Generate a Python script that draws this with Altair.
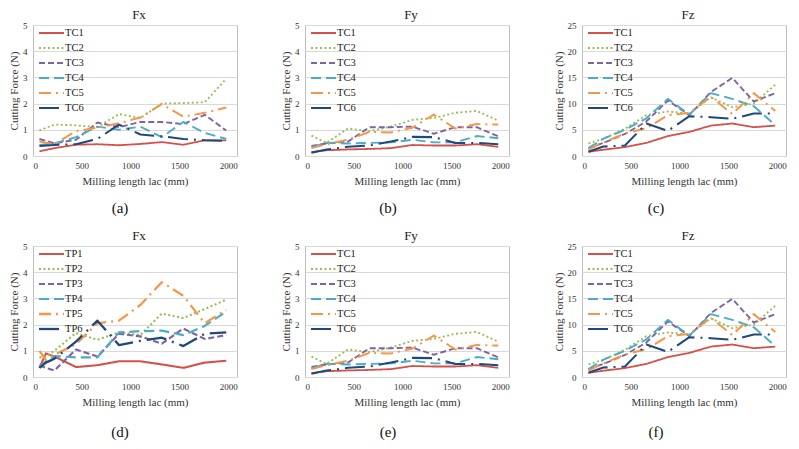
import altair as alt
import pandas as pd

SERIF = "Liberation Serif"

# ---------------- data ----------------
x_tc = [66, 220, 440, 660, 880, 1100, 1320, 1540, 1760, 1980]
x_tp = [66, 132, 220, 440, 660, 880, 1100, 1320, 1540, 1760, 1980]

tc_names = ["TC1", "TC2", "TC3", "TC4", "TC5", "TC6"]
tp_names = ["TP1", "TP2", "TP3", "TP4", "TP5", "TP6"]

# (a) Fx, TC
fx_tc1 = [0.18, 0.3, 0.43, 0.45, 0.41, 0.46, 0.53, 0.43, 0.6, 0.6]
fx_tc2 = [0.97, 1.2, 1.17, 1.1, 1.6, 1.45, 2.0, 2.02, 2.05, 2.95]
fx_tc3 = [0.65, 0.48, 0.62, 1.28, 1.1, 1.3, 1.3, 1.22, 1.57, 0.97]
fx_tc4 = [0.42, 0.48, 0.72, 1.12, 1.0, 1.12, 0.72, 1.3, 0.88, 0.65]
fx_tc5 = [0.55, 0.45, 0.95, 1.08, 1.25, 1.47, 1.98, 1.5, 1.65, 1.85]
fx_tc6 = [0.38, 0.42, 0.45, 0.65, 1.2, 0.82, 0.75, 0.65, 0.6, 0.58]

# (b)/(e) Fy, TC
fy_tc1 = [0.15, 0.22, 0.25, 0.27, 0.3, 0.42, 0.4, 0.4, 0.45, 0.35]
fy_tc2 = [0.78, 0.5, 1.05, 0.95, 1.12, 1.38, 1.45, 1.65, 1.72, 1.35]
fy_tc3 = [0.38, 0.48, 0.55, 1.1, 1.1, 1.12, 0.85, 1.1, 1.1, 0.75]
fy_tc4 = [0.33, 0.5, 0.48, 0.5, 0.52, 0.62, 0.52, 0.52, 0.76, 0.68]
fy_tc5 = [0.3, 0.45, 0.62, 0.92, 0.9, 1.08, 1.58, 1.05, 1.22, 1.2]
fy_tc6 = [0.12, 0.25, 0.35, 0.4, 0.55, 0.73, 0.72, 0.5, 0.5, 0.45]

# (c)/(f) Fz, TC
fz_tc1 = [0.8, 1.2, 1.7, 2.5, 3.8, 4.6, 5.8, 6.2, 5.5, 5.8]
fz_tc2 = [2.4, 3.3, 5.2, 7.8, 8.5, 8.1, 11.2, 9.3, 10.0, 13.6]
fz_tc3 = [1.5, 2.5, 4.2, 6.6, 10.6, 7.8, 12.2, 14.9, 10.4, 12.0]
fz_tc4 = [1.5, 3.3, 5.0, 7.2, 10.9, 7.9, 12.0, 10.9, 9.5, 5.9]
fz_tc5 = [1.2, 2.6, 4.3, 5.3, 7.8, 8.2, 11.3, 8.0, 12.0, 8.6]
fz_tc6 = [0.8, 1.8, 2.0, 6.2, 4.8, 7.6, 7.4, 7.1, 8.1, 8.1]

# (d) Fx, TP
fx_tp1 = [0.35, 0.9, 0.78, 0.38, 0.45, 0.6, 0.6, 0.48, 0.35, 0.55, 0.62]
fx_tp2 = [0.75, 0.78, 1.0, 1.68, 1.42, 1.7, 1.6, 2.42, 2.25, 2.6, 2.95]
fx_tp3 = [0.45, 0.35, 0.25, 1.05, 0.78, 1.65, 1.55, 1.27, 1.85, 1.45, 1.6]
fx_tp4 = [0.38, 0.6, 0.8, 0.75, 0.75, 1.7, 1.75, 1.77, 1.6, 1.95, 2.5]
fx_tp5 = [1.0, 0.65, 0.85, 1.25, 2.05, 2.15, 2.75, 3.62, 3.1, 2.05, 2.57]
fx_tp6 = [0.35, 0.55, 0.7, 1.35, 2.15, 1.22, 1.38, 1.5, 1.18, 1.65, 1.7]

# ---------------- styling ----------------
COLORS = ["#D4504A", "#9BBB59", "#8064A2", "#4BACC6", "#F79646", "#1F497D"]
DASHES = [[1, 0], [2, 2.5], [6, 3], [10, 5], [12, 5, 2, 5], [20, 6, 2, 6]]
WIDTHS = [1.8, 2.3, 2.6, 2.6, 2.6, 2.9]

W, H = 204, 131


def panel(names, xs, series, title, ymax, yticks, label, label_x, label_dy):
    rows = []
    for name, vals in zip(names, series):
        for x, v in zip(xs, vals):
            rows.append({"series": name, "x": x, "y": v})
    df = pd.DataFrame(rows)

    color = alt.Color("series:N", scale=alt.Scale(domain=names, range=COLORS), legend=None)
    dash = alt.StrokeDash("series:N", scale=alt.Scale(domain=names, range=DASHES), legend=None)
    sw = alt.StrokeWidth("series:N", scale=alt.Scale(domain=names, range=WIDTHS), legend=None)

    lines = alt.Chart(df).mark_line(strokeCap="butt", strokeJoin="round").encode(
        x=alt.X("x:Q", scale=alt.Scale(domain=[0, 2090], nice=False, zero=False),
                axis=alt.Axis(values=[0, 500, 1000, 1500, 2000], format="d",
                              title="Milling  length lac (mm)",
                              grid=False, labelPadding=5, titlePadding=5)),
        y=alt.Y("y:Q", scale=alt.Scale(domain=[0, ymax], nice=False),
                axis=alt.Axis(values=yticks, format="d", title="Cutting Force (N)", grid=True,
                              labelPadding=6, titlePadding=3)),
        color=color, strokeDash=dash, strokeWidth=sw,
        order="x:Q",
    )

    leg = pd.DataFrame({"series": names})
    leg_y = alt.Y("series:N", scale=alt.Scale(type="point", domain=names, range=[8, 83], padding=0), axis=None)
    leg_rules = alt.Chart(leg).mark_rule(strokeCap="butt").encode(
        x=alt.value(6), x2=alt.value(31), y=leg_y,
        color=color, strokeDash=dash, strokeWidth=sw,
    )
    leg_text = alt.Chart(leg).mark_text(align="left", baseline="middle", font=SERIF,
                                        fontSize=10.5, color="#222").encode(
        x=alt.value(32), y=leg_y, text="series:N"
    )

    lab = pd.DataFrame({"label": [label]})
    lab_text = alt.Chart(lab).mark_text(align="center", baseline="middle", font=SERIF,
                                        fontSize=15, color="#111").encode(
        x=alt.value(label_x), y=alt.value(H + label_dy), text="label:N"
    )

    return alt.layer(lines, leg_rules, leg_text, lab_text).resolve_scale(y="independent").properties(
        width=W, height=H,
        title=alt.TitleParams(text=title, font=SERIF, fontSize=13, fontWeight="normal",
                              color="#222", dx=4, offset=-1),
    )


pa = panel(tc_names, x_tc, [fx_tc1, fx_tc2, fx_tc3, fx_tc4, fx_tc5, fx_tc6], "Fx", 5, [0, 1, 2, 3, 4, 5], "(a)", 87, 52)
pb = panel(tc_names, x_tc, [fy_tc1, fy_tc2, fy_tc3, fy_tc4, fy_tc5, fy_tc6], "Fy", 5, [0, 1, 2, 3, 4, 5], "(b)", 83, 52)
pc = panel(tc_names, x_tc, [fz_tc1, fz_tc2, fz_tc3, fz_tc4, fz_tc5, fz_tc6], "Fz", 25, [0, 5, 10, 15, 20, 25], "(c)", 74, 52)
pd_ = panel(tp_names, x_tp, [fx_tp1, fx_tp2, fx_tp3, fx_tp4, fx_tp5, fx_tp6], "Fx", 5, [0, 1, 2, 3, 4, 5], "(d)", 87, 55)
pe = panel(tc_names, x_tc, [fy_tc1, fy_tc2, fy_tc3, fy_tc4, fy_tc5, fy_tc6], "Fy", 5, [0, 1, 2, 3, 4, 5], "(e)", 83, 55)
pf = panel(tc_names, x_tc, [fz_tc1, fz_tc2, fz_tc3, fz_tc4, fz_tc5, fz_tc6], "Fz", 25, [0, 5, 10, 15, 20, 25], "(f)", 74, 55)

chart = alt.concat(pa, pb, pc, pd_, pe, pf, columns=3,
                   spacing={"row": 12, "column": 42}).properties(
    padding=0, background="white"
).configure_view(
    stroke="#bfbfbf", strokeWidth=1
).configure_axis(
    labelFont=SERIF, labelFontSize=9, labelColor="#333",
    titleFont=SERIF, titleFontSize=11, titleFontWeight="normal", titleColor="#333",
    ticks=False, domain=False, gridColor="#d9d9d9", gridWidth=1,
)

chart.save("out.html", embed_options={"renderer": "svg", "actions": False})
